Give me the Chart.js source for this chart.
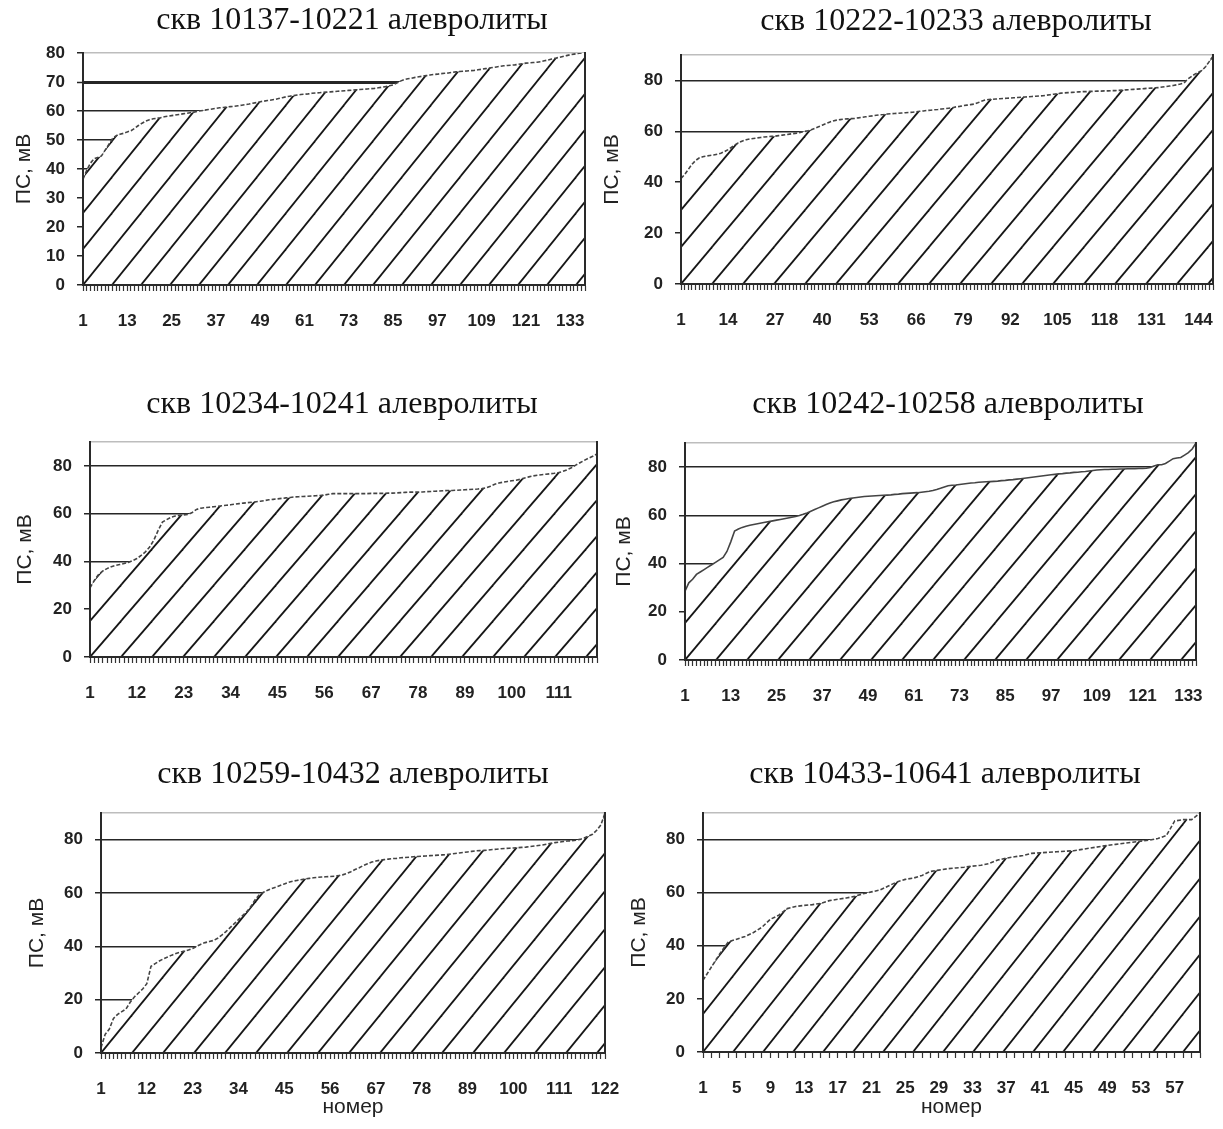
<!DOCTYPE html>
<html><head><meta charset="utf-8">
<script src="https://cdn.jsdelivr.net/npm/chart.js@4.4.1/dist/chart.umd.min.js"></script>
<style>
html,body{margin:0;padding:0;background:#fff;overflow:hidden;width:1223px;height:1129px;position:relative}
canvas{position:absolute}
</style></head><body>
<script>
// ---------- DATA ----------
const title1 = 'скв 10137-10221 алевролиты';
const title2 = 'скв 10222-10233 алевролиты';
const title3 = 'скв 10234-10241 алевролиты';
const title4 = 'скв 10242-10258 алевролиты';
const title5 = 'скв 10259-10432 алевролиты';
const title6 = 'скв 10433-10641 алевролиты';
const yAxisTitle = 'ПС, мВ';
const xAxisTitle = 'номер';

const values1 = [
 36.5,39.5,42,43.5,44,44.5,46.5,48.5,50.5,51.5,
 52,52.3,52.8,53.2,54,55,55.8,56.5,57,57.3,
 57.5,57.7,58,58.2,58.4,58.6,58.8,59,59.2,59.4,
 59.6,59.9,60.1,60.3,60.5,60.7,60.9,61.1,61.2,61.4,
 61.5,61.6,61.8,62,62.2,62.4,62.7,62.9,63.2,63.4,
 63.6,63.8,64,64.3,64.6,64.9,65.1,65.3,65.5,65.7,
 65.8,65.9,66.1,66.2,66.3,66.4,66.5,66.6,66.7,66.8,
 66.9,67,67.1,67.2,67.3,67.4,67.5,67.6,67.7,67.8,
 68,68.2,68.4,68.7,69,69.6,70.3,70.8,71.1,71.3,
 71.6,71.8,72,72.2,72.4,72.6,72.7,72.9,73,73.1,
 73.3,73.5,73.6,73.7,73.8,73.9,74,74.2,74.4,74.6,
 74.8,75,75.2,75.4,75.6,75.7,75.8,75.9,76.1,76.3,
 76.5,76.6,76.7,76.8,77,77.3,77.6,77.9,78.2,78.5,
 78.8,79.1,79.4,79.6,79.8,80,80.6
];
const values2 = [
 41.5,43,45,47,48.5,49.5,50,50.3,50.5,50.7,
 51,51.4,52,52.8,53.8,54.8,55.6,56.2,56.7,57,
 57.2,57.4,57.6,57.8,57.9,58,58.1,58.3,58.5,58.7,
 58.9,59.1,59.3,59.6,59.9,60.2,60.6,61.2,61.8,62.4,
 63,63.6,64.1,64.4,64.6,64.8,64.9,65,65.1,65.3,
 65.5,65.7,65.9,66.1,66.3,66.5,66.6,66.8,66.9,67,
 67.1,67.2,67.3,67.4,67.5,67.7,67.9,68,68.2,68.3,
 68.5,68.6,68.8,68.9,69.1,69.3,69.6,69.8,70.1,70.3,
 70.5,70.7,71.2,71.8,72.3,72.5,72.6,72.7,72.8,72.9,
 73,73.1,73.2,73.3,73.4,73.5,73.6,73.7,73.8,73.9,
 74,74.2,74.4,74.6,74.8,75,75.1,75.2,75.3,75.4,
 75.5,75.6,75.6,75.7,75.7,75.8,75.8,75.9,75.9,76,
 76,76.1,76.2,76.3,76.4,76.5,76.6,76.7,76.8,76.9,
 77,77.1,77.2,77.4,77.6,77.8,78,78.3,78.6,79,
 80.5,81.5,82.5,83.2,84,85.5,87.5,89.5
];
const values3 = [
 29,32,34.5,36,37,37.8,38.3,38.7,39.1,39.6,
 40.3,41.2,42.5,44,46,49,53,56.5,57.5,58.5,
 59,59.3,59.5,59.7,60.5,61.8,62.3,62.5,62.7,62.9,
 63.1,63.3,63.5,63.7,64,64.2,64.4,64.6,64.8,65,
 65.2,65.5,65.8,66,66.2,66.4,66.6,66.8,67,67.1,
 67.2,67.3,67.4,67.5,67.6,67.8,68.1,68.4,68.4,68.4,
 68.4,68.4,68.4,68.4,68.4,68.4,68.5,68.5,68.5,68.5,
 68.6,68.6,68.7,68.8,68.9,69,69,69.1,69.1,69.2,
 69.3,69.4,69.5,69.6,69.7,69.7,69.8,69.9,70,70.1,
 70.2,70.3,70.5,70.8,71.5,72.3,72.8,73.2,73.5,73.8,
 74,74.4,74.9,75.4,75.8,76.1,76.3,76.5,76.7,76.9,
 77.2,77.7,78.4,79.2,80.3,81.3,82.3,83.2,84,85
];
const values4 = [
 28.5,32,33.5,35.5,36.5,37.5,38.5,39.5,40.5,41.5,
 42.5,45,49,53.5,54.3,55,55.5,55.9,56.2,56.5,
 56.8,57.1,57.4,57.7,58,58.3,58.6,58.9,59.2,59.5,
 59.9,60.4,61,61.7,62.4,63.1,63.8,64.5,65.1,65.6,
 66,66.4,66.7,67,67.2,67.4,67.6,67.8,67.9,68,
 68.1,68.2,68.3,68.4,68.5,68.7,68.8,69,69.1,69.2,
 69.3,69.4,69.6,69.8,70,70.3,70.7,71.2,71.8,72.3,
 72.5,72.6,72.8,73,73.2,73.4,73.5,73.7,73.8,73.9,
 74,74.1,74.2,74.4,74.5,74.7,74.8,75,75.2,75.4,
 75.6,75.8,76,76.2,76.4,76.6,76.8,77,77.2,77.3,
 77.5,77.6,77.8,77.9,78.1,78.2,78.4,78.6,78.8,78.9,
 79,79,79.1,79.1,79.2,79.2,79.3,79.3,79.3,79.4,
 79.4,79.5,79.8,80.5,81,81,81.5,82.5,83.5,83.8,
 84,85,86,87.5,90
];
const values5 = [
 2,7,9,13,14.5,15.5,16.5,19,21,22.5,
 24,26,32.5,33.5,34.5,35.3,36,36.7,37.3,37.8,
 38.2,38.6,39.2,40,40.8,41.4,41.8,42.2,43,44.2,
 45.5,47,48.5,50,51.5,53,55,57.5,59.3,60.3,
 61,61.7,62.2,62.8,63.4,64,64.4,64.7,65,65.3,
 65.5,65.7,65.9,66,66.1,66.2,66.3,66.5,66.8,67.3,
 68,68.8,69.5,70.3,71,71.6,72,72.3,72.5,72.7,
 72.9,73,73.2,73.3,73.4,73.6,73.7,73.8,73.9,74,
 74.1,74.2,74.3,74.4,74.6,74.8,75,75.2,75.4,75.6,
 75.8,75.9,76,76.1,76.3,76.4,76.6,76.7,76.8,76.9,
 77,77.1,77.2,77.4,77.6,77.8,78,78.3,78.6,78.9,
 79.1,79.3,79.5,79.6,79.8,80.1,80.6,81.3,82,83.5,
 85.5,90
];
const values6 = [
 27,32,37,41.5,42.5,43.5,45,47,50,51.5,
 54,54.8,55.2,55.5,56,57,57.5,58,58.6,59.6,
 60.3,61,62.5,64,65,65.5,66.5,68,68.5,69,
 69.3,69.6,70,70.3,71,72.3,73,73.5,74,74.8,
 75,75.2,75.4,75.6,75.8,76.3,76.8,77.3,77.8,78.2,
 78.6,79,79.4,79.8,80.4,81.5,87,87.5,87.5,90
];

const xLabels1 = [1,13,25,37,49,61,73,85,97,109,121,133];
const xLabels2 = [1,14,27,40,53,66,79,92,105,118,131,144];
const xLabels3 = [1,12,23,34,45,56,67,78,89,100,111];
const xLabels4 = [1,13,25,37,49,61,73,85,97,109,121,133];
const xLabels5 = [1,12,23,34,45,56,67,78,89,100,111,122];
const xLabels6 = [1,5,9,13,17,21,25,29,33,37,41,45,49,53,57];

const yTicks1 = [0,10,20,30,40,50,60,70,80];
const yTicks2 = [0,20,40,60,80];
const yMax1 = 80;
const yMax2 = 90;

// ---------- PANELS ----------
const panels = [
  {title: title1, values: values1, xLabels: xLabels1, yTicks: yTicks1, yMax: yMax1, xTitle: null, boldValue: 70},
  {title: title2, values: values2, xLabels: xLabels2, yTicks: yTicks2, yMax: yMax2, xTitle: null},
  {title: title3, values: values3, xLabels: xLabels3, yTicks: yTicks2, yMax: yMax2, xTitle: null},
  {title: title4, values: values4, xLabels: xLabels4, yTicks: yTicks2, yMax: yMax2, xTitle: null},
  {title: title5, values: values5, xLabels: xLabels5, yTicks: yTicks2, yMax: yMax2, xTitle: xAxisTitle},
  {title: title6, values: values6, xLabels: xLabels6, yTicks: yTicks2, yMax: yMax2, xTitle: xAxisTitle}
];

// layout (page pixels): canvas origin, plot area, title centre, y-title centre
const geom = [
  {cx: 9,   cy: 0,   L: 83,  R: 585,  T: 53,  B: 285,  tcx: 352, tcy: 21,  ytx: 24,  xh: 50, ha: 29, hb: 36},
  {cx: 597, cy: 0,   L: 681, R: 1213, T: 55,  B: 284,  tcx: 956, tcy: 22,  ytx: 612, xh: 50, ha: 31, hb: 37},
  {cx: 10,  cy: 380, L: 90,  R: 597,  T: 442, B: 657,  tcx: 342, tcy: 405, ytx: 25,  xh: 50, ha: 31, hb: 36},
  {cx: 609, cy: 380, L: 685, R: 1196, T: 443, B: 660,  tcx: 948, tcy: 405, ytx: 624, xh: 50, ha: 31, hb: 37},
  {cx: 22,  cy: 750, L: 101, R: 605,  T: 813, B: 1053, tcx: 353, tcy: 775, ytx: 37,  xh: 72, ha: 31, hb: 38},
  {cx: 624, cy: 750, L: 703, R: 1200, T: 813, B: 1052, tcx: 945, tcy: 775, ytx: 639, xh: 72, ha: 30, hb: 38}
];

const TITLE_SIZE = 32, TITLE_LH = TITLE_SIZE * 1.2;
const YT_SIZE = 21, YT_LH = YT_SIZE * 1.2;
const TICK_FONT = {family: 'Liberation Sans', size: 17, weight: 'bold'};

function makeHatch(a, b, area) {
  const c = document.createElement('canvas');
  c.width = a; c.height = b;
  const g = c.getContext('2d');
  g.fillStyle = '#ffffff';
  g.fillRect(0, 0, a, b);
  g.strokeStyle = '#161616';
  g.lineWidth = 1.8;
  for (const k of [-1, 0, 1]) {
    g.beginPath();
    const x0 = -a, x1 = 2 * a;
    g.moveTo(x0, b - (b / a) * x0 + k * b);
    g.lineTo(x1, b - (b / a) * x1 + k * b);
    g.stroke();
  }
  const p = g.createPattern(c, 'repeat');
  p.setTransform(new DOMMatrix().translate(area.left, area.bottom));
  return p;
}

Chart.defaults.font.family = 'Liberation Sans';

panels.forEach((p, idx) => {
  const g = geom[idx];
  const cw = 2 * (g.tcx - g.cx);
  const ch = g.B + g.xh - g.cy;
  const rw = cw - (g.R - g.cx);
  const tPadTop = g.tcy - g.cy - TITLE_LH / 2;
  const tPadBottom = (g.T - g.cy) - tPadTop - TITLE_LH;
  const ytPad = g.ytx - g.cx - YT_LH / 2;

  const cv = document.createElement('canvas');
  cv.width = cw; cv.height = ch;
  cv.style.left = g.cx + 'px';
  cv.style.top = g.cy + 'px';
  cv.style.width = cw + 'px';
  cv.style.height = ch + 'px';
  document.body.appendChild(cv);

  const cats = p.values.map((_, i) => String(i + 1));
  let pattern = null;

  new Chart(cv, {
    type: 'line',
    data: {
      labels: cats,
      datasets: [{
        data: p.values,
        fill: 'origin',
        backgroundColor: (ctx) => {
          const area = ctx.chart.chartArea;
          if (!area) return '#ffffff';
          if (!pattern) pattern = makeHatch(g.ha, g.hb, area);
          return pattern;
        },
        borderColor: '#444',
        borderWidth: 1.6,
        borderDash: idx === 3 ? [] : [4, 2],
        pointRadius: 0,
        tension: 0
      }]
    },
    options: {
      responsive: false,
      animation: false,
      devicePixelRatio: 1,
      layout: {padding: 0},
      plugins: {
        legend: {display: false},
        tooltip: {enabled: false},
        title: {
          display: true,
          text: p.title,
          color: '#111',
          font: {family: 'Liberation Serif', size: TITLE_SIZE, weight: 'normal', lineHeight: 1.2},
          padding: {top: tPadTop, bottom: tPadBottom}
        }
      },
      scales: {
        x: {
          type: 'category',
          offset: false,
          grid: {display: true, drawOnChartArea: false, drawTicks: true, tickLength: 6, tickColor: '#333', tickWidth: 1.2},
          border: {display: true, color: '#2a2a2a', width: 2, z: 1},
          ticks: {
            autoSkip: false, maxRotation: 0, minRotation: 0, padding: 20,
            color: '#222', font: TICK_FONT,
            callback: (v, i) => p.xLabels.includes(i + 1) ? String(i + 1) : ''
          },
          title: p.xTitle ? {
            display: true, text: p.xTitle, color: '#222',
            font: {family: 'Liberation Sans', size: YT_SIZE, lineHeight: 1.2},
            padding: {top: 0, bottom: (g.B + g.xh) - 1107 - YT_LH / 2}
          } : {display: false},
          afterFit: (s) => { s.height = g.xh; }
        },
        y: {
          type: 'linear',
          min: 0, max: p.yMax,
          afterBuildTicks: (s) => {
            const t = p.yTicks.slice();
            if (!t.includes(p.yMax)) t.push(p.yMax);
            s.ticks = t.map(v => ({value: v}));
          },
          grid: {
            display: true, drawOnChartArea: true, drawTicks: true, tickLength: 6,
            color: (c) => (c.tick && c.tick.value === p.yMax) ? '#bdbdbd' : '#262626',
            lineWidth: (c) => (c.tick && c.tick.value === p.boldValue) ? 3 : 1.5,
            tickColor: (c) => (c.tick && !p.yTicks.includes(c.tick.value)) ? 'rgba(0,0,0,0)' : '#262626',
            tickWidth: 1.5
          },
          border: {display: true, color: '#2a2a2a', width: 2, z: 1},
          ticks: {
            padding: 12, color: '#222', font: TICK_FONT,
            callback: (v) => p.yTicks.includes(v) ? String(v) : ''
          },
          title: {
            display: true, text: yAxisTitle, color: '#222',
            font: {family: 'Liberation Sans', size: YT_SIZE, lineHeight: 1.2},
            padding: {top: ytPad, bottom: 0}
          },
          afterFit: (s) => { s.width = g.L - g.cx; }
        },
        yR: {
          type: 'linear', position: 'right',
          min: 0, max: p.yMax,
          grid: {display: false},
          ticks: {display: false},
          border: {display: true, color: '#2a2a2a', width: 2, z: 1},
          afterFit: (s) => { s.width = rw; }
        }
      }
    }
  });
});
</script>
</body></html>
